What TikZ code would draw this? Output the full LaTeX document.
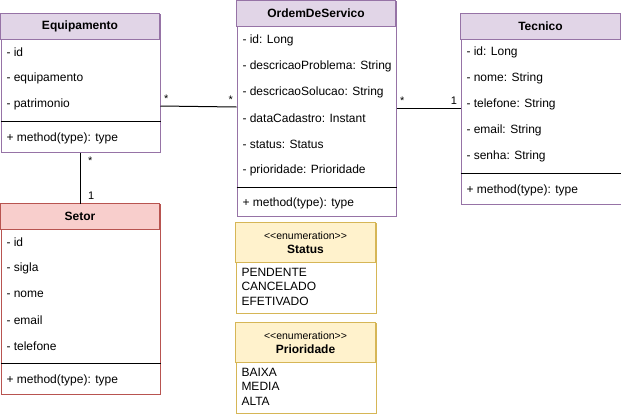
\documentclass[tikz,border=0pt]{standalone}
\usepackage{fontspec}
\setmainfont{Liberation Sans}
\definecolor{classfill}{HTML}{E1D5E7}
\definecolor{classline}{HTML}{9673A6}
\definecolor{setorfill}{HTML}{F8CECC}
\definecolor{setorline}{HTML}{B85450}
\definecolor{enumfill}{HTML}{FFF2CC}
\definecolor{enumline}{HTML}{D6B656}
\tikzset{
  classbox/.style={draw=classline, fill=white, anchor=north west, inner sep=0pt, line width=1pt},
  setorbox/.style={classbox, draw=setorline},
  enumbox/.style={classbox, draw=enumline},
  attr/.style={anchor=west, inner sep=0pt, font=\fontsize{12}{14}\selectfont},
  title/.style={inner sep=0pt, font=\fontsize{12}{14}\selectfont\bfseries},
  stereo/.style={inner sep=0pt, font=\fontsize{10.5}{12}\selectfont},
  mult/.style={inner sep=0pt, font=\fontsize{11}{13}\selectfont},
}
\begin{document}
\begin{tikzpicture}[x=1pt, y=-1pt, line width=1pt]
    \useasboundingbox (0,0) rectangle (621,413);

    % Equipamento
    \node[classbox, minimum width=159pt, minimum height=138pt] (equip) at (0.5,13.5) {};
    \filldraw[draw=classline, fill=classfill] (equip.north west) rectangle ++(159,26);
    \draw (equip.west |- 0,121) -- (equip.east |- 0,121);
    \node[title] (equip-t) at (80,26.5) {Equipamento};
    \node[attr] (equip-id) at (6,52) {- id};
    \node[attr] (equip-eq) at (6,78) {- equipamento};
    \node[attr] (equip-pat) at (6,104) {- patrimonio};
    \node[attr] (equip-m) at (6,138) {+ method(type): type};

    % OrdemDeServico
    \node[classbox, minimum width=159pt, minimum height=215pt] (ordem) at (236.5,0.5) {};
    \filldraw[draw=classline, fill=classfill] (ordem.north west) rectangle ++(159,26);
    \draw (ordem.west |- 0,187) -- (ordem.east |- 0,187);
    \node[title] (ordem-t) at (316,13.5) {OrdemDeServico};
    \node[attr] (ordem-id) at (242,40) {- id: Long};
    \node[attr] (ordem-dp) at (242,66) {- descricaoProblema: String};
    \node[attr] (ordem-ds) at (242,92) {- descricaoSolucao: String};
    \node[attr] (ordem-dc) at (242,118) {- dataCadastro: Instant};
    \node[attr] (ordem-st) at (242,144) {- status: Status};
    \node[attr] (ordem-pr) at (242,170) {- prioridade: Prioridade};
    \node[attr] (ordem-m) at (242,203) {+ method(type): type};

    % Tecnico
    \node[classbox, minimum width=160pt, minimum height=190pt] (tec) at (460.5,13.5) {};
    \filldraw[draw=classline, fill=classfill] (tec.north west) rectangle ++(160,26);
    \draw (tec.west |- 0,173) -- (tec.east |- 0,173);
    \node[title] (tec-t) at (540.5,26.5) {Tecnico};
    \node[attr] (tec-id) at (466,52) {- id: Long};
    \node[attr] (tec-no) at (466,78) {- nome: String};
    \node[attr] (tec-te) at (466,104) {- telefone: String};
    \node[attr] (tec-em) at (466,130) {- email: String};
    \node[attr] (tec-se) at (466,156) {- senha: String};
    \node[attr] (tec-m) at (466,190) {+ method(type): type};

    % Setor
    \node[setorbox, minimum width=159pt, minimum height=190pt] (setor) at (0.5,203.5) {};
    \filldraw[draw=setorline, fill=setorfill] (setor.north west) rectangle ++(159,26);
    \draw (setor.west |- 0,363) -- (setor.east |- 0,363);
    \node[title] (setor-t) at (80,216.5) {Setor};
    \node[attr] (setor-id) at (6,242) {- id};
    \node[attr] (setor-si) at (6,268) {- sigla};
    \node[attr] (setor-no) at (6,294) {- nome};
    \node[attr] (setor-em) at (6,320) {- email};
    \node[attr] (setor-te) at (6,346) {- telefone};
    \node[attr] (setor-m) at (6,380) {+ method(type): type};

    % Status
    \node[enumbox, minimum width=140pt, minimum height=90pt] (status) at (235.5,222.5) {};
    \filldraw[draw=enumline, fill=enumfill] (status.north west) rectangle ++(140,40);
    \node[stereo] (status-s) at (305.5,236) {{<}{<}enumeration{>}{>}};
    \node[title] (status-t) at (305.5,249.5) {Status};
    \node[attr] (status-1) at (241,272) {PENDENTE};
    \node[attr] (status-2) at (241,286.5) {CANCELADO};
    \node[attr] (status-3) at (241,301) {EFETIVADO};

    % Prioridade
    \node[enumbox, minimum width=140pt, minimum height=90pt] (prio) at (235.5,322.5) {};
    \filldraw[draw=enumline, fill=enumfill] (prio.north west) rectangle ++(140,40);
    \node[stereo] (prio-s) at (305.5,336) {{<}{<}enumeration{>}{>}};
    \node[title] (prio-t) at (305.5,349.5) {Prioridade};
    \node[attr] (prio-1) at (241,372) {BAIXA};
    \node[attr] (prio-2) at (241,386.5) {MEDIA};
    \node[attr] (prio-3) at (241,401) {ALTA};

    % associacoes
    \draw (equip.east |- 0,106) -- (ordem.west |- 0,107)
        node[mult, pos=0, above right, xshift=3pt, yshift=3pt] {*}
        node[mult, pos=1, above left, xshift=-3pt, yshift=3pt] {*};
    \draw (ordem.east |- 0,108) -- (tec.west |- 0,108)
        node[mult, pos=0, above right, xshift=3pt, yshift=3pt] {*}
        node[mult, pos=1, above left, xshift=-3pt, yshift=3pt] {1};
    \draw (equip.south) -- (setor.north)
        node[mult, pos=0, below right, xshift=7pt, yshift=-4pt] {*}
        node[mult, pos=1, above right, xshift=7pt, yshift=4pt] {1};
\end{tikzpicture}
\end{document}
